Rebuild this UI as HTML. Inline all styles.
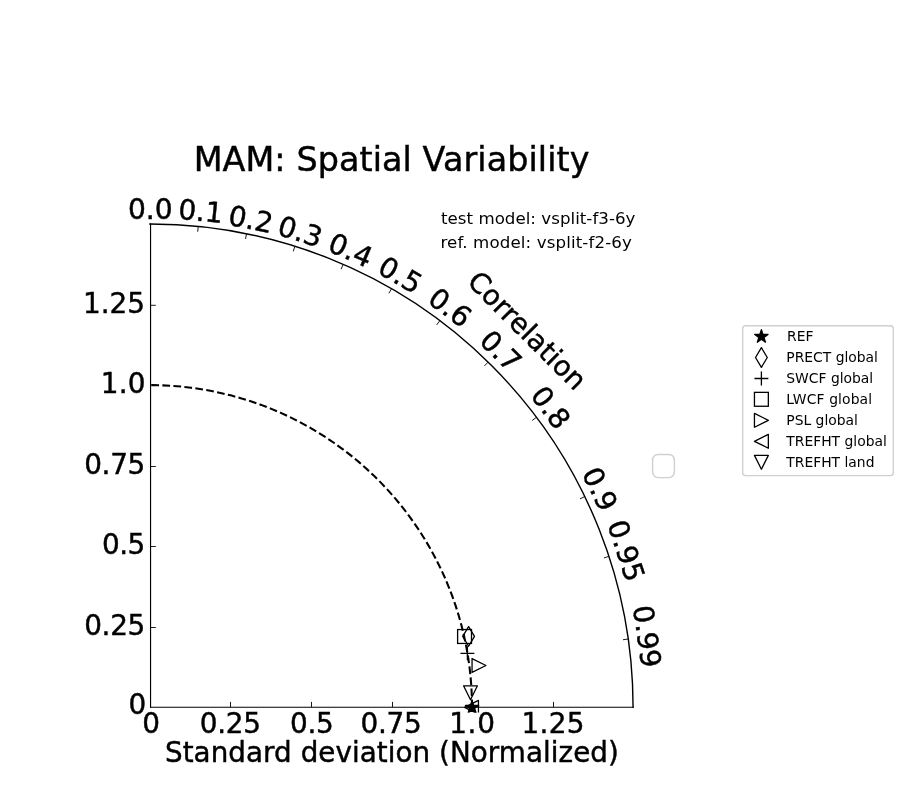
<!DOCTYPE html>
<html lang="en"><head><meta charset="utf-8"><title>MAM: Spatial Variability</title>
<style>html,body{margin:0;padding:0;background:#fff;}body{width:900px;height:800px;overflow:hidden;}svg{display:block;}text{font-family:"DejaVu Sans", "Liberation Sans", sans-serif;fill:#000;}</style></head><body>
<svg width="900" height="800" viewBox="0 0 900 800">
<rect width="900" height="800" fill="#fff"/>
<defs><clipPath id="axclip"><rect x="145.10" y="219.20" width="492.80" height="493.40"/></clipPath></defs>
<text x="193.66" y="171.40" font-size="33.40" letter-spacing="0.082" stroke="#000" stroke-width="0.45">MAM: Spatial Variability</text>
<g fill="none" stroke="#000" stroke-width="1.15" stroke-linecap="square">
<line x1="150.55" y1="224.03" x2="150.55" y2="707.22"/>
<line x1="150.55" y1="707.2" x2="633.07" y2="707.2"/>
<path d="M 149.93 224.03 A 483.14 483.14 0 0 1 633.07 707.17" stroke-width="1.42"/>
</g>
<g stroke="#000" stroke-width="0.90" fill="none">
<line x1="230.50" y1="707.2" x2="230.50" y2="701.90"/>
<line x1="311.50" y1="707.2" x2="311.50" y2="701.90"/>
<line x1="392.50" y1="707.2" x2="392.50" y2="701.90"/>
<line x1="472.50" y1="707.2" x2="472.50" y2="701.90"/>
<line x1="553.50" y1="707.2" x2="553.50" y2="701.90"/>
<line x1="150.5" y1="627.50" x2="155.80" y2="627.50"/>
<line x1="150.5" y1="546.50" x2="155.80" y2="546.50"/>
<line x1="150.5" y1="466.50" x2="155.80" y2="466.50"/>
<line x1="150.5" y1="385.00" x2="155.80" y2="385.00"/>
<line x1="150.5" y1="305.30" x2="155.80" y2="305.30"/>
<line x1="198.24" y1="226.45" x2="197.71" y2="231.73"/>
<line x1="246.56" y1="233.79" x2="245.50" y2="238.98"/>
<line x1="294.87" y1="246.28" x2="293.28" y2="251.34"/>
<line x1="343.19" y1="264.36" x2="341.07" y2="269.22"/>
<line x1="391.50" y1="288.76" x2="388.85" y2="293.35"/>
<line x1="439.81" y1="320.66" x2="436.63" y2="324.90"/>
<line x1="488.13" y1="362.14" x2="484.42" y2="365.92"/>
<line x1="536.44" y1="417.29" x2="532.20" y2="420.47"/>
<line x1="584.76" y1="496.57" x2="579.99" y2="498.88"/>
<line x1="608.91" y1="556.31" x2="603.88" y2="557.96"/>
<line x1="628.24" y1="639.01" x2="622.99" y2="639.76"/>
</g>
<text x="142.14" y="733.00" font-size="27.90" letter-spacing="0.000" stroke="#000" stroke-width="0.45">0</text>
<text x="199.79" y="733.00" font-size="27.90" letter-spacing="-0.264" stroke="#000" stroke-width="0.45">0.25</text>
<text x="289.99" y="733.00" font-size="27.90" letter-spacing="-0.288" stroke="#000" stroke-width="0.45">0.5</text>
<text x="360.49" y="733.00" font-size="27.90" letter-spacing="-0.264" stroke="#000" stroke-width="0.45">0.75</text>
<text x="449.23" y="733.00" font-size="27.90" letter-spacing="0.661" stroke="#000" stroke-width="0.45">1.0</text>
<text x="521.53" y="733.00" font-size="27.90" letter-spacing="0.254" stroke="#000" stroke-width="0.45">1.25</text>
<text x="128.39" y="714.40" font-size="27.90" letter-spacing="0.000" stroke="#000" stroke-width="0.45">0</text>
<text x="84.19" y="634.80" font-size="27.90" letter-spacing="-0.331" stroke="#000" stroke-width="0.45">0.25</text>
<text x="101.99" y="554.00" font-size="27.90" letter-spacing="-0.538" stroke="#000" stroke-width="0.45">0.5</text>
<text x="84.19" y="474.00" font-size="27.90" letter-spacing="-0.331" stroke="#000" stroke-width="0.45">0.75</text>
<text x="100.73" y="392.90" font-size="27.90" letter-spacing="0.261" stroke="#000" stroke-width="0.45">1.0</text>
<text x="82.93" y="312.90" font-size="27.90" letter-spacing="0.021" stroke="#000" stroke-width="0.45">1.25</text>
<g font-size="28.10" text-anchor="middle" stroke="#000" stroke-width="0.45">
<text transform="translate(150.23 708.17) rotate(0.000)" x="0" y="-488.74">0.0</text>
<text transform="translate(150.83 707.17) rotate(5.739)" x="0" y="-488.74">0.1</text>
<text transform="translate(151.23 707.77) rotate(11.537)" x="0" y="-488.74">0.2</text>
<text transform="translate(150.63 707.17) rotate(17.458)" x="0" y="-488.74">0.3</text>
<text transform="translate(151.23 707.17) rotate(23.578)" x="0" y="-488.74">0.4</text>
<text transform="translate(150.93 706.67) rotate(30.000)" x="0" y="-488.74">0.5</text>
<text transform="translate(150.83 706.27) rotate(36.870)" x="0" y="-488.74">0.6</text>
<text transform="translate(151.73 706.97) rotate(44.427)" x="0" y="-488.74">0.7</text>
<text transform="translate(151.93 706.67) rotate(53.130)" x="0" y="-488.74">0.8</text>
<text transform="translate(151.23 706.27) rotate(64.158)" x="0" y="-488.74">0.9</text>
<text transform="translate(152.53 706.27) rotate(71.805)" x="0" y="-488.74">0.95</text>
<text transform="translate(153.43 706.77) rotate(81.890)" x="0" y="-488.74">0.99</text>
</g>
<text transform="translate(150.93 706.87) rotate(45)" x="0" y="-522.64" font-size="27.78" text-anchor="middle" letter-spacing="0.1" stroke="#000" stroke-width="0.45">Correlation</text>
<text x="164.99" y="761.60" font-size="27.78" letter-spacing="0.056" stroke="#000" stroke-width="0.45">Standard deviation (Normalized)</text>
<text x="440.98" y="223.70" font-size="16.67" letter-spacing="0.025">test model: vsplit-f3-6y</text>
<text x="440.50" y="247.70" font-size="16.67" letter-spacing="0.122">ref. model: vsplit-f2-6y</text>
<g clip-path="url(#axclip)">
<polyline points="472.02,707.17 471.86,696.85 471.36,686.53 470.53,676.24 469.38,665.98 467.89,655.76 466.08,645.60 463.95,635.50 461.49,625.47 458.71,615.53 455.61,605.68 452.20,595.93 448.48,586.30 444.46,576.79 440.13,567.42 435.50,558.19 430.58,549.11 425.37,540.20 419.87,531.46 414.10,522.90 408.06,514.52 401.75,506.35 395.19,498.38 388.37,490.63 381.31,483.10 374.00,475.79 366.47,468.73 358.72,461.91 350.75,455.35 342.58,449.04 334.20,443.00 325.64,437.23 316.90,431.73 307.99,426.52 298.91,421.60 289.68,416.97 280.31,412.64 270.80,408.62 261.17,404.90 251.42,401.49 241.57,398.39 231.63,395.61 221.60,393.15 211.50,391.02 201.34,389.21 191.12,387.72 180.86,386.57 170.57,385.74 160.25,385.24 149.93,385.08" fill="none" stroke="#000" stroke-width="2.08" stroke-dasharray="7.71 3.33"/>
<polygon points="472.10,700.55 473.66,705.35 478.71,705.35 474.62,708.32 476.18,713.12 472.10,710.15 468.02,713.12 469.58,708.32 465.49,705.35 470.54,705.35" fill="#000" stroke="#000" stroke-width="1.30" stroke-linejoin="round"/>
<polygon points="468.60,626.58 474.49,636.40 468.60,646.22 462.71,636.40" fill="none" stroke="#000" stroke-width="1.30" stroke-linejoin="round"/>
<path d="M 460.45 653.30 H 474.34 M 467.40 646.35 V 660.25" fill="none" stroke="#000" stroke-width="1.30"/>
<rect x="457.61" y="629.55" width="13.89" height="13.89" fill="none" stroke="#000" stroke-width="1.30"/>
<polygon points="485.94,665.50 472.06,658.55 472.06,672.45" fill="none" stroke="#000" stroke-width="1.30" stroke-linejoin="round"/>
<polygon points="464.56,707.40 478.44,700.45 478.44,714.35" fill="none" stroke="#000" stroke-width="1.30" stroke-linejoin="round"/>
<polygon points="470.50,699.70 463.56,685.80 477.44,685.80" fill="none" stroke="#000" stroke-width="1.30" stroke-linejoin="round"/>
</g>
<rect x="652.6" y="454.5" width="21.8" height="23.1" rx="5.5" ry="5.5" fill="#fff" stroke="#d0d0d0" stroke-width="1.45"/>
<rect x="742.7" y="325.7" width="150.6" height="149.9" rx="2.8" ry="2.8" fill="#fff" stroke="#d0d0d0" stroke-width="1.4"/>
<polygon points="761.40,329.66 762.96,334.45 768.01,334.45 763.92,337.42 765.48,342.22 761.40,339.25 757.32,342.22 758.88,337.42 754.79,334.45 759.84,334.45" fill="#000" stroke="#000" stroke-width="1.30" stroke-linejoin="round"/>
<polygon points="761.40,347.68 767.29,357.50 761.40,367.32 755.51,357.50" fill="none" stroke="#000" stroke-width="1.30" stroke-linejoin="round"/>
<path d="M 754.45 378.50 H 768.35 M 761.40 371.56 V 385.44" fill="none" stroke="#000" stroke-width="1.30"/>
<rect x="754.45" y="392.36" width="13.89" height="13.89" fill="none" stroke="#000" stroke-width="1.30"/>
<polygon points="768.35,420.30 754.45,413.36 754.45,427.25" fill="none" stroke="#000" stroke-width="1.30" stroke-linejoin="round"/>
<polygon points="754.45,441.30 768.35,434.36 768.35,448.25" fill="none" stroke="#000" stroke-width="1.30" stroke-linejoin="round"/>
<polygon points="761.40,469.25 754.45,455.36 768.35,455.36" fill="none" stroke="#000" stroke-width="1.30" stroke-linejoin="round"/>
<g font-size="13.89">
<text x="787.00" y="341.10">REF</text>
<text x="786.30" y="362.10">PRECT global</text>
<text x="786.30" y="383.10">SWCF global</text>
<text x="786.30" y="404.10" letter-spacing="0.12">LWCF global</text>
<text x="786.30" y="425.10">PSL global</text>
<text x="786.30" y="446.10">TREFHT global</text>
<text x="786.30" y="467.10">TREFHT land</text>
</g>
</svg></body></html>
